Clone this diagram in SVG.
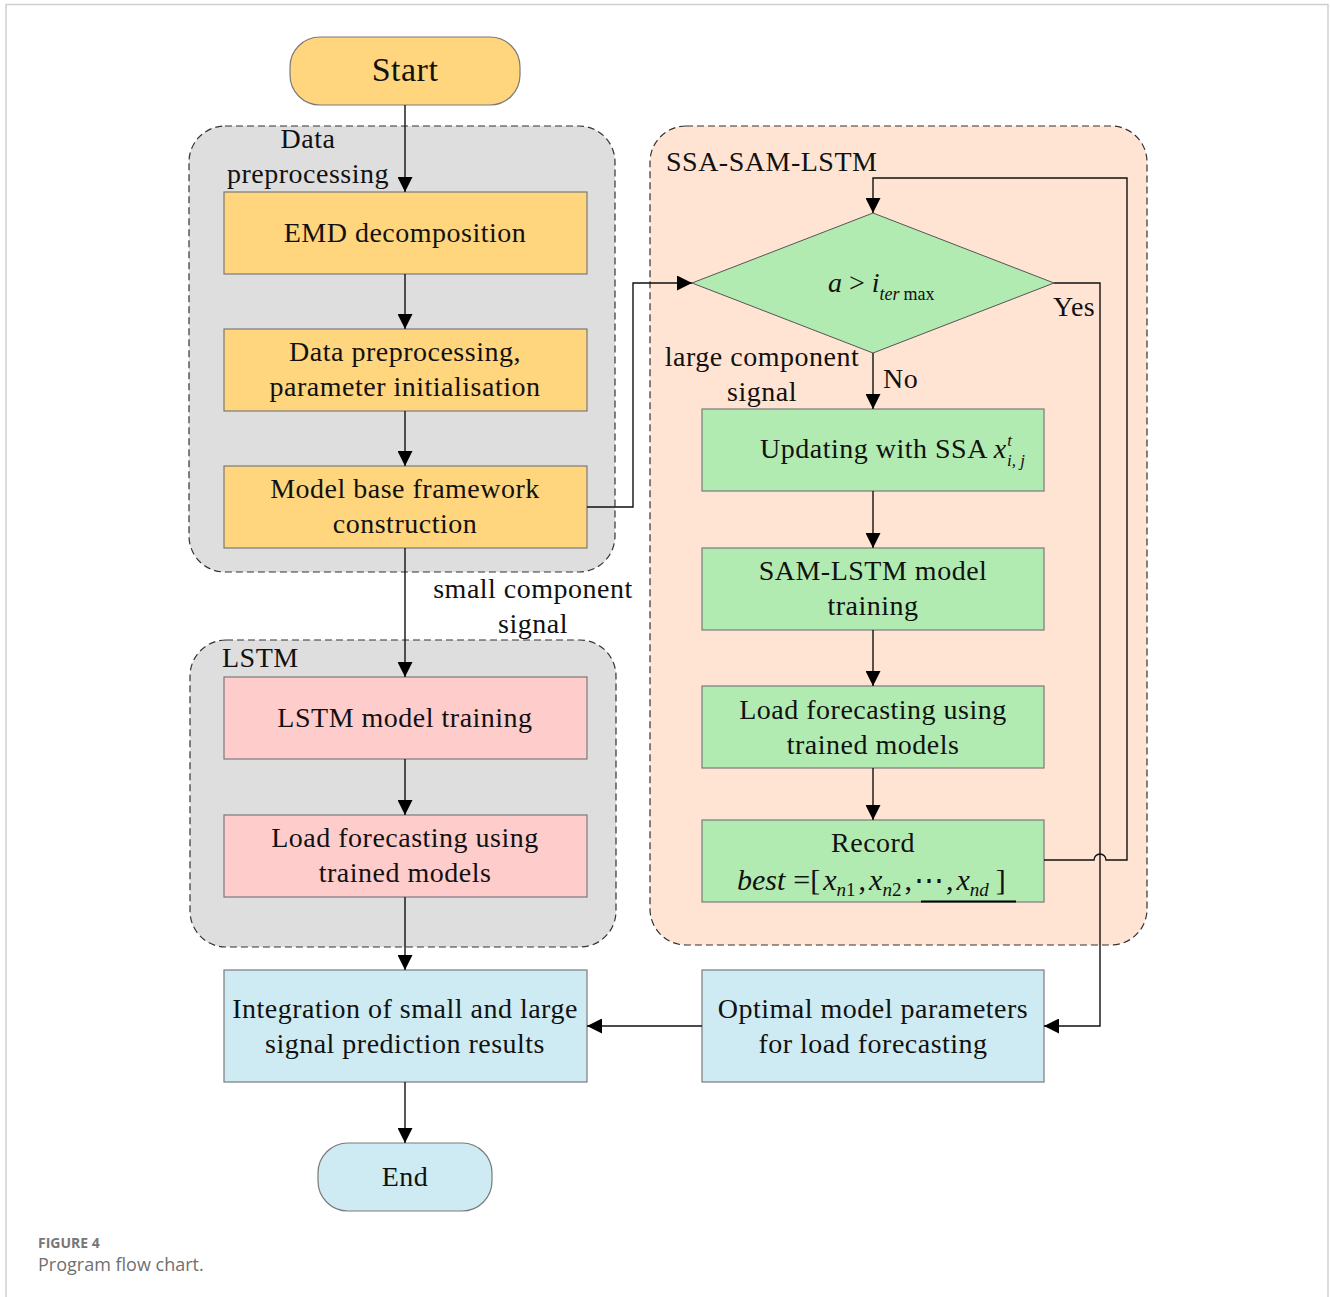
<svg xmlns="http://www.w3.org/2000/svg" width="1330" height="1297" viewBox="0 0 1330 1297">
<style>
text{font-family:"Liberation Serif","Times New Roman",serif;font-size:28px;letter-spacing:0.5px;fill:#111}
.c{text-anchor:middle}
.i{font-style:italic}
.grp{stroke:#333;stroke-width:1.2;stroke-dasharray:7 4}
.box{stroke:#7a7a7a;stroke-width:1.2}
.y{fill:#FFD57D}
.g{fill:#B1EBB1}
.p{fill:#FFCCCC}
.b{fill:#CEEBF3}
.ln{fill:none;stroke:#111;stroke-width:1.4}
.cap{font-family:"Open Sans","Noto Sans",sans-serif;fill:#707070;letter-spacing:0}
</style>
<defs>
<marker id="ah" viewBox="0 0 10 10" refX="10" refY="5" markerWidth="15" markerHeight="15" markerUnits="userSpaceOnUse" orient="auto">
<path d="M0,0 L10,5 L0,10 z" fill="#000"/>
</marker>
</defs>
<rect width="1330" height="1297" fill="#fff"/>
<path d="M6,1297 V4.5 H1328 V1297" fill="none" stroke="#cfcfcf" stroke-width="1.5"/>

<g id="group-data-preprocessing">
<rect x="189" y="126" width="426" height="446" rx="36" fill="#DEDEDE" class="grp"/>
<text class="c" x="308" y="148">Data</text>
<text class="c" x="308" y="183">preprocessing</text>
</g>
<g id="group-ssa">
<rect x="650" y="126" width="497" height="819" rx="36" fill="#FFE4D3" class="grp"/>
<text x="666" y="171">SSA-SAM-LSTM</text>
</g>
<g id="group-lstm">
<rect x="190" y="640" width="426" height="307" rx="36" fill="#DEDEDE" class="grp"/>
<text x="222" y="667">LSTM</text>
</g>

<g id="start">
<rect x="290" y="37" width="230" height="68" rx="30" class="box y"/>
<text class="c" x="405" y="81" style="font-size:34px">Start</text>
</g>
<g id="emd">
<rect x="224" y="192" width="363" height="82" class="box y"/>
<text class="c" x="405" y="242">EMD decomposition</text>
</g>
<g id="data-prep">
<rect x="224" y="329" width="363" height="82" class="box y"/>
<text class="c" x="405" y="361">Data preprocessing,</text>
<text class="c" x="405" y="396">parameter initialisation</text>
</g>
<g id="model-base">
<rect x="224" y="466" width="363" height="82" class="box y"/>
<text class="c" x="405" y="498">Model base framework</text>
<text class="c" x="405" y="533">construction</text>
</g>
<g id="lstm-train">
<rect x="224" y="677" width="363" height="82" class="box p"/>
<text class="c" x="405" y="727">LSTM model training</text>
</g>
<g id="lstm-forecast">
<rect x="224" y="815" width="363" height="82" class="box p"/>
<text class="c" x="405" y="847">Load forecasting using</text>
<text class="c" x="405" y="882">trained models</text>
</g>
<g id="integration">
<rect x="224" y="970" width="363" height="112" class="box b"/>
<text class="c" x="405" y="1018">Integration of small and large</text>
<text class="c" x="405" y="1053">signal prediction results</text>
</g>
<g id="end">
<rect x="318" y="1143" width="174" height="68" rx="30" class="box b"/>
<text class="c" x="405" y="1186">End</text>
</g>

<g id="decision">
<polygon points="692,283 873,213 1054,283 873,353" class="g" stroke="#555" stroke-width="1"/>
<text x="828" y="292" style="font-size:28px;letter-spacing:0"><tspan class="i">a</tspan> &gt; <tspan class="i">i</tspan><tspan class="i" style="font-size:18px" dy="8">ter</tspan><tspan style="font-size:18px" dx="4">max</tspan></text>
</g>
<g id="updating">
<rect x="702" y="409" width="342" height="82" class="box g"/>
<text x="760" y="458">Updating with SSA <tspan class="i" style="letter-spacing:0">x</tspan><tspan class="i" style="font-size:17px;letter-spacing:0" dx="1" dy="-12">t</tspan><tspan class="i" style="font-size:17px;letter-spacing:0" dx="-5" dy="20">i, j</tspan></text>
</g>
<g id="sam-lstm">
<rect x="702" y="548" width="342" height="82" class="box g"/>
<text class="c" x="873" y="580">SAM-LSTM model</text>
<text class="c" x="873" y="615">training</text>
</g>
<g id="ssa-forecast">
<rect x="702" y="686" width="342" height="82" class="box g"/>
<text class="c" x="873" y="719">Load forecasting using</text>
<text class="c" x="873" y="754">trained models</text>
</g>
<g id="record">
<rect x="702" y="820" width="342" height="82" class="box g"/>
<text class="c" x="873" y="852">Record</text>
<text x="737" y="890" style="font-size:30px;letter-spacing:0"><tspan class="i">best</tspan><tspan dx="8">=[</tspan><tspan class="i" dx="3">x</tspan><tspan class="i" style="font-size:19px" dy="6">n</tspan><tspan style="font-size:19px">1</tspan><tspan dy="-6" dx="3">,</tspan><tspan class="i" dx="3">x</tspan><tspan class="i" style="font-size:19px" dy="6">n</tspan><tspan style="font-size:19px">2</tspan><tspan dy="-6" dx="3">,</tspan><tspan dx="2">⋯</tspan><tspan dx="2">,</tspan><tspan class="i" dx="3">x</tspan><tspan class="i" style="font-size:19px" dy="6">nd</tspan><tspan dy="-6" dx="7">]</tspan></text>
<line x1="921" y1="901.5" x2="1016" y2="901.5" stroke="#000" stroke-width="2"/>
</g>
<g id="optimal">
<rect x="702" y="970" width="342" height="112" class="box b"/>
<text class="c" x="873" y="1018">Optimal model parameters</text>
<text class="c" x="873" y="1053">for load forecasting</text>
</g>

<g id="connectors">
<path class="ln" d="M405,105 V192" marker-end="url(#ah)"/>
<path class="ln" d="M405,274 V329" marker-end="url(#ah)"/>
<path class="ln" d="M405,411 V466" marker-end="url(#ah)"/>
<path class="ln" d="M587,507 H633 V283 H692" marker-end="url(#ah)"/>
<path class="ln" d="M405,548 V677" marker-end="url(#ah)"/>
<path class="ln" d="M405,759 V815" marker-end="url(#ah)"/>
<path class="ln" d="M405,897 V970" marker-end="url(#ah)"/>
<path class="ln" d="M405,1082 V1143" marker-end="url(#ah)"/>
<path class="ln" d="M702,1026 H587" marker-end="url(#ah)"/>
<path class="ln" d="M1054,283 H1100 V1026 H1044" marker-end="url(#ah)"/>
<path class="ln" d="M873,353 V409" marker-end="url(#ah)"/>
<path class="ln" d="M873,491 V548" marker-end="url(#ah)"/>
<path class="ln" d="M873,630 V686" marker-end="url(#ah)"/>
<path class="ln" d="M873,768 V820" marker-end="url(#ah)"/>
<path class="ln" d="M1044,860 H1094 A6,6 0 0 1 1106,860 H1127 V178 H873 V213" marker-end="url(#ah)"/>
<text class="c" x="533" y="598">small component</text>
<text class="c" x="533" y="633">signal</text>
<text class="c" x="762" y="366">large component</text>
<text class="c" x="762" y="401">signal</text>
<text x="1053" y="316">Yes</text>
<text x="883" y="388">No</text>
</g>

<text class="cap" x="38" y="1248" style="font-size:14px;font-weight:700;fill:#777">FIGURE 4</text>
<text class="cap" x="38" y="1271" style="font-size:18px">Program flow chart.</text>
</svg>
